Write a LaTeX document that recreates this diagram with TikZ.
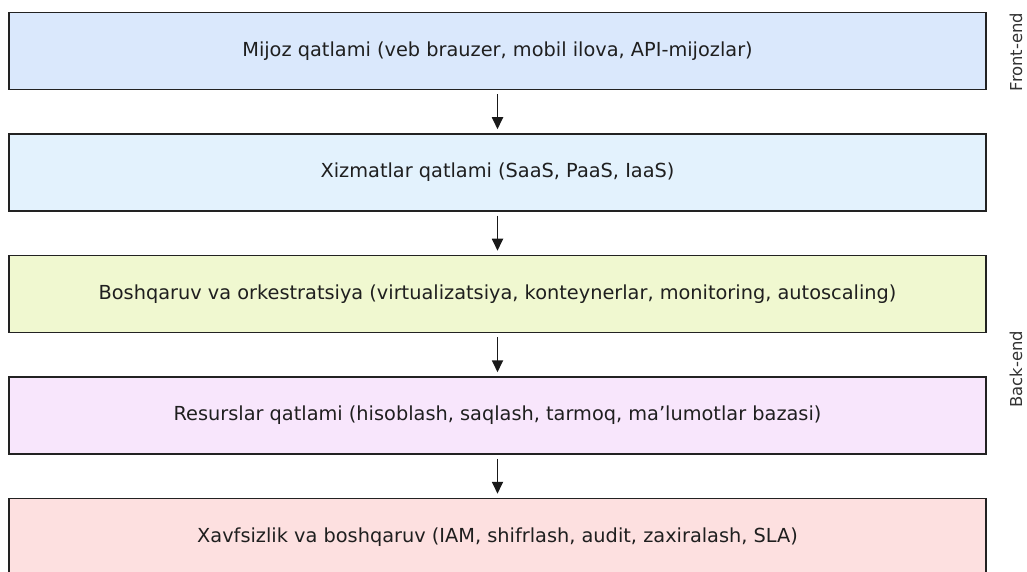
\documentclass[tikz,border=0pt]{standalone}
\usepackage{fontspec}
\setmainfont{DejaVu Sans}
\usetikzlibrary{arrows.meta}
\definecolor{cA}{HTML}{DAE8FC}
\definecolor{cB}{HTML}{E3F2FD}
\definecolor{cC}{HTML}{F0F8D0}
\definecolor{cD}{HTML}{F8E6FC}
\definecolor{cE}{HTML}{FDE0E0}
\definecolor{edge}{HTML}{222222}
\begin{document}
\begin{tikzpicture}[x=1bp,y=-1bp,
  layer/.style={draw=edge,line width=1.5bp,minimum width=977bp,minimum height=77bp,inner sep=0pt,font=\fontsize{19.4}{22}\selectfont,text=black!88},
  flow/.style={-{Triangle[length=12bp,width=11bp]},line width=1.8bp,draw=black!90},
  side/.style={rotate=90,font=\fontsize{16.5}{19}\selectfont,text=black!80}]
\useasboundingbox (0,0) rectangle (1027,572);
\node[layer,fill=cA] (l1) at (497.5,51) {Mijoz qatlami (veb brauzer, mobil ilova, API-mijozlar)};
\node[layer,fill=cB] (l2) at (497.5,172.5) {Xizmatlar qatlami (SaaS, PaaS, IaaS)};
\node[layer,fill=cC] (l3) at (497.5,294) {Boshqaruv va orkestratsiya (virtualizatsiya, konteynerlar, monitoring, autoscaling)};
\node[layer,fill=cD] (l4) at (497.5,415.5) {Resurslar qatlami (hisoblash, saqlash, tarmoq, ma’lumotlar bazasi)};
\node[layer,fill=cE] (l5) at (497.5,537) {Xavfsizlik va boshqaruv (IAM, shifrlash, audit, zaxiralash, SLA)};
\draw[flow] ([yshift=-4bp]l1.south) -- ([yshift=4bp]l2.north);
\draw[flow] ([yshift=-4bp]l2.south) -- ([yshift=4bp]l3.north);
\draw[flow] ([yshift=-4bp]l3.south) -- ([yshift=4bp]l4.north);
\draw[flow] ([yshift=-4bp]l4.south) -- ([yshift=4bp]l5.north);
\node[side] (fe) at (1016,52) {Front-end};
\node[side] (be) at (1016,369) {Back-end};
\end{tikzpicture}
\end{document}
